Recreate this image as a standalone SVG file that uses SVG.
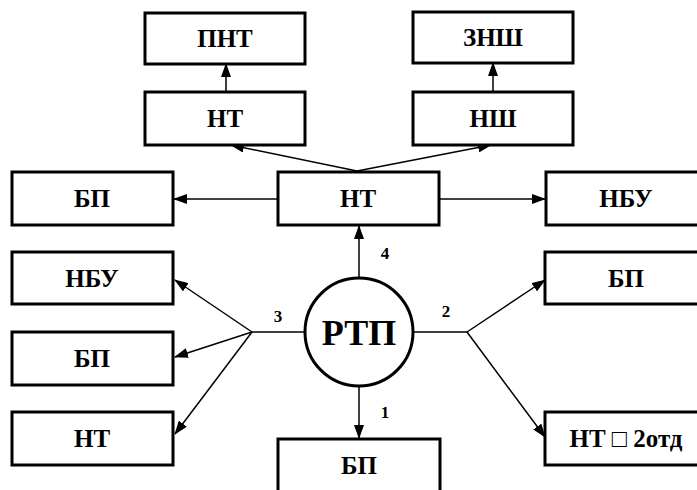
<svg xmlns="http://www.w3.org/2000/svg" width="697" height="490" viewBox="0 0 697 490">
<defs>
<marker id="ah" markerUnits="userSpaceOnUse" markerWidth="14" markerHeight="10" refX="13" refY="5" orient="auto">
<path d="M0,0 L14,5 L0,10 z" fill="#000"/>
</marker>
<style>
.box{fill:#fff;stroke:#000;stroke-width:3}
.t{font-family:"Liberation Serif","Times New Roman",serif;font-weight:bold;font-size:25px;text-anchor:middle;fill:#000}
.n{font-family:"Liberation Serif","Times New Roman",serif;font-weight:bold;font-size:17px;text-anchor:middle;fill:#000}
.c line,.c polyline{stroke:#000;stroke-width:1.5;fill:none}
.a{marker-end:url(#ah)}
</style>
</defs>
<rect width="697" height="490" fill="#fff"/>
<g class="c" id="connectors">
<line class="a" x1="226" y1="92" x2="226" y2="64"/>
<line class="a" x1="493" y1="92" x2="493" y2="63"/>
<line class="a" x1="357" y1="171" x2="231" y2="145"/>
<line class="a" x1="357" y1="171" x2="491" y2="145"/>
<line class="a" x1="278" y1="199" x2="174" y2="199"/>
<line class="a" x1="439" y1="199" x2="545" y2="199"/>
<line class="a" x1="359" y1="278" x2="359" y2="226"/>
<line class="a" x1="359" y1="386" x2="359" y2="438"/>
<line x1="305" y1="332" x2="252" y2="332"/>
<line class="a" x1="252" y1="332" x2="175" y2="280"/>
<line class="a" x1="252" y1="332" x2="175" y2="357"/>
<line class="a" x1="252" y1="332" x2="175" y2="434"/>
<line x1="413" y1="332" x2="467" y2="332"/>
<line class="a" x1="467" y1="332" x2="545" y2="280"/>
<line class="a" x1="467" y1="332" x2="545" y2="437"/>
<text class="n" x="385" y="259">4</text>
<text class="n" x="278" y="322">3</text>
<text class="n" x="446" y="317">2</text>
<text class="n" x="385" y="418">1</text>
</g>
<g id="pnt"><rect class="box" x="145" y="13" width="160" height="51"/><text class="t" x="225" y="47">ПНТ</text></g>
<g id="nt_top"><rect class="box" x="145" y="92" width="160" height="53"/><text class="t" x="225" y="127">НТ</text></g>
<g id="znsh"><rect class="box" x="413" y="12" width="160" height="51"/><text class="t" x="493" y="46">ЗНШ</text></g>
<g id="nsh"><rect class="box" x="413" y="92" width="160" height="53"/><text class="t" x="493" y="127">НШ</text></g>
<g id="nt_center"><rect class="box" x="278" y="172" width="161" height="53"/><text class="t" x="358" y="207">НТ</text></g>
<g id="bp_left"><rect class="box" x="12" y="172" width="161" height="53"/><text class="t" x="92" y="207">БП</text></g>
<g id="nbu_right"><rect class="box" x="546" y="172" width="162" height="53"/><text class="t" x="626" y="207">НБУ</text></g>
<g id="nbu_left"><rect class="box" x="12" y="252" width="161" height="52"/><text class="t" x="92" y="287">НБУ</text></g>
<g id="bp_left2"><rect class="box" x="12" y="332" width="161" height="53"/><text class="t" x="92" y="367">БП</text></g>
<g id="nt_left"><rect class="box" x="12" y="412" width="161" height="53"/><text class="t" x="92" y="447">НТ</text></g>
<g id="bp_right"><rect class="box" x="545" y="252" width="163" height="52"/><text class="t" x="626" y="287">БП</text></g>
<g id="nt_2otd"><rect class="box" x="545" y="412" width="163" height="53"/><text class="t" x="626" y="447">НТ □ 2отд</text></g>
<g id="bp_bottom"><rect class="box" x="278" y="439" width="162" height="60"/><text class="t" x="359" y="474">БП</text></g>
<g id="rtp"><circle cx="359" cy="332" r="54" fill="#fff" stroke="#000" stroke-width="3"/><text class="t" x="359" y="345" style="font-size:36px">РТП</text></g>
</svg>
